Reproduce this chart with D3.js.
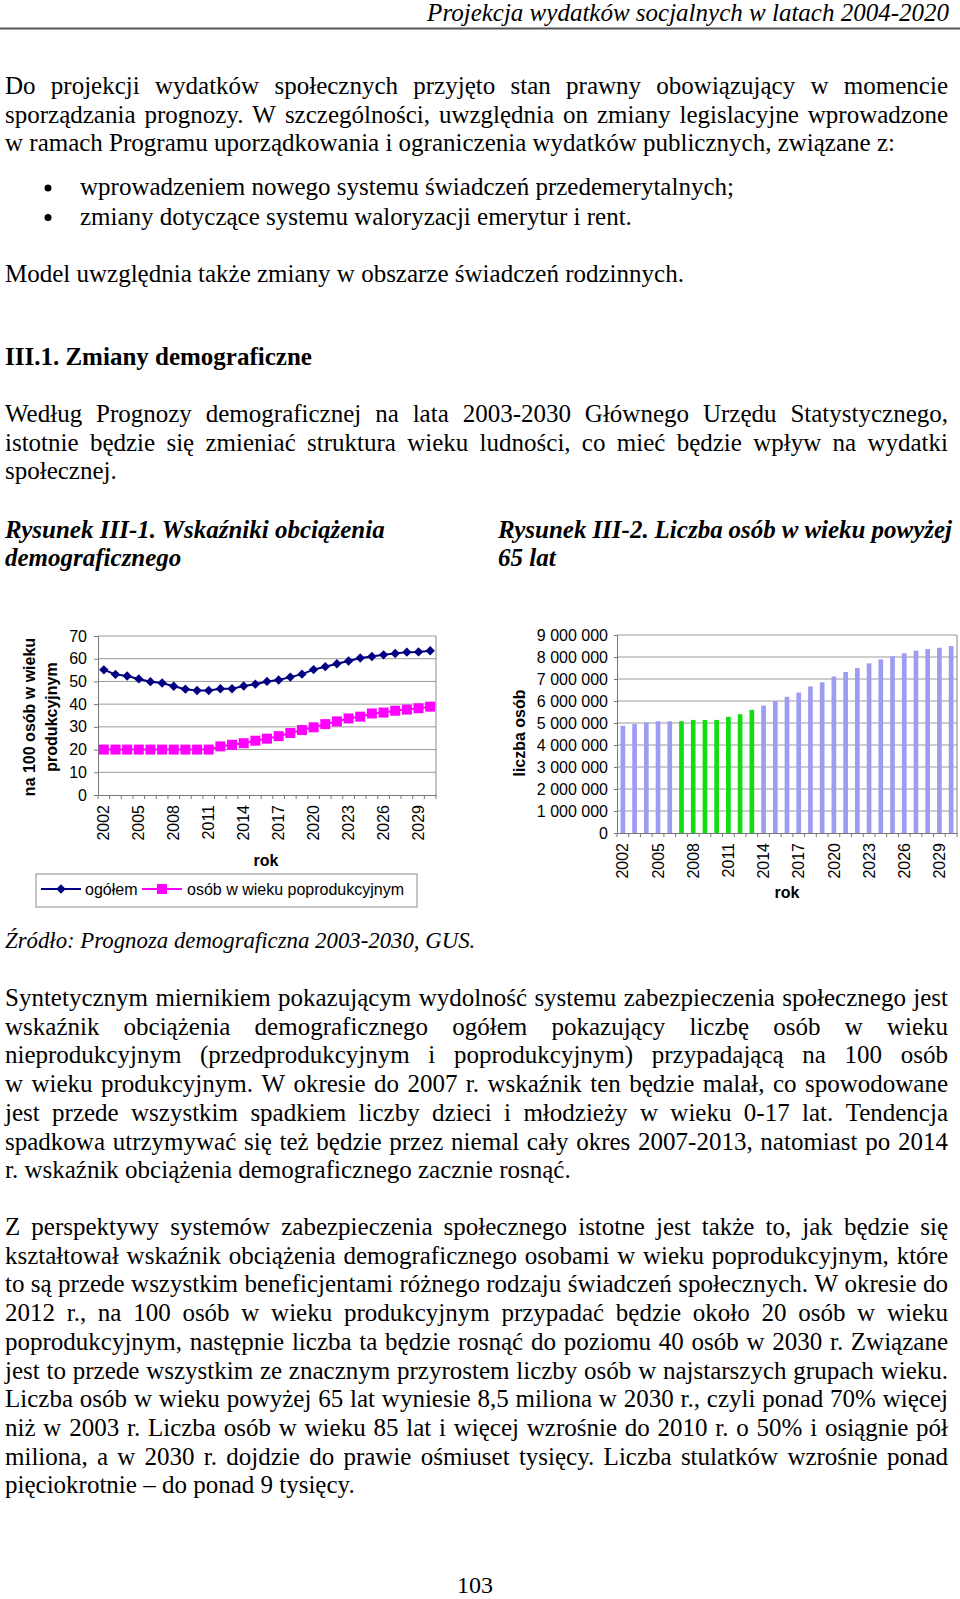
<!DOCTYPE html>
<html>
<head>
<meta charset="utf-8">
<script src="https://cdn.jsdelivr.net/npm/d3@7"></script>
<style>
  body { margin: 0; background: #fff; }
  svg { display: block; }
</style>
</head>
<body>
<svg id="page" width="960" height="1599"></svg>
<script>
// chart data
var years = [2002, 2003, 2004, 2005, 2006, 2007, 2008, 2009, 2010, 2011, 2012, 2013, 2014, 2015, 2016,
             2017, 2018, 2019, 2020, 2021, 2022, 2023, 2024, 2025, 2026, 2027, 2028, 2029, 2030];
var yearLabels = [2002, 2005, 2008, 2011, 2014, 2017, 2020, 2023, 2026, 2029];

var ogolem = [55.1, 53.1, 52.4, 51.1, 49.9, 49.3, 47.9, 46.6, 46.0, 46.0, 46.8, 46.8, 48.0, 48.8, 50.0,
              50.6, 51.9, 53.2, 55.2, 56.5, 57.8, 59.0, 60.3, 61.0, 61.7, 62.3, 62.9, 63.0, 63.5];
var poprodukcyjnym = [20.0, 20.0, 20.0, 20.0, 20.0, 20.0, 20.0, 20.0, 20.0, 20.0, 21.4, 22.1, 22.8, 23.9, 24.8,
                      25.9, 27.3, 28.6, 29.8, 31.2, 32.4, 33.7, 34.5, 35.9, 36.3, 37.1, 37.6, 38.2, 38.9];
var ticksLeft = [0, 10, 20, 30, 40, 50, 60, 70];

var osoby65 = [4870000, 4950000, 5020000, 5080000, 5080000, 5080000, 5140000, 5140000, 5140000, 5280000,
               5400000, 5600000, 5790000, 5990000, 6190000, 6380000, 6660000, 6850000, 7110000, 7320000,
               7500000, 7710000, 7890000, 8030000, 8170000, 8290000, 8360000, 8420000, 8500000];
var greenYears = [2007, 2008, 2009, 2010, 2011, 2012, 2013];
var ticksRight = [0, 1000000, 2000000, 3000000, 4000000, 5000000, 6000000, 7000000, 8000000, 9000000];

// page text: [line, justified]
var para1 = [
  ['Do projekcji wydatków społecznych przyjęto stan prawny obowiązujący w momencie', true],
  ['sporządzania prognozy. W szczególności, uwzględnia on zmiany legislacyjne wprowadzone', true],
  ['w ramach Programu uporządkowania i ograniczenia wydatków publicznych, związane z:', false]
];
var bullets = ['wprowadzeniem nowego systemu świadczeń przedemerytalnych;',
               'zmiany dotyczące systemu waloryzacji emerytur i rent.'];
var para2 = [
  ['Według Prognozy demograficznej na lata 2003-2030 Głównego Urzędu Statystycznego,', true],
  ['istotnie będzie się zmieniać struktura wieku ludności, co mieć będzie wpływ na wydatki', true],
  ['społecznej.', false]
];
var para3 = [
  ['Syntetycznym miernikiem pokazującym wydolność systemu zabezpieczenia społecznego jest', true],
  ['wskaźnik obciążenia demograficznego ogółem pokazujący liczbę osób w wieku', true],
  ['nieprodukcyjnym (przedprodukcyjnym i poprodukcyjnym) przypadającą na 100 osób', true],
  ['w wieku produkcyjnym. W okresie do 2007 r. wskaźnik ten będzie malał, co spowodowane', true],
  ['jest przede wszystkim spadkiem liczby dzieci i młodzieży w wieku 0-17 lat. Tendencja', true],
  ['spadkowa utrzymywać się też będzie przez niemal cały okres 2007-2013, natomiast po 2014', true],
  ['r. wskaźnik obciążenia demograficznego zacznie rosnąć.', false]
];
var para4 = [
  ['Z perspektywy systemów zabezpieczenia społecznego istotne jest także to, jak będzie się', true],
  ['kształtował wskaźnik obciążenia demograficznego osobami w wieku poprodukcyjnym, które', true],
  ['to są przede wszystkim beneficjentami różnego rodzaju świadczeń społecznych. W okresie do', true],
  ['2012 r., na 100 osób w wieku produkcyjnym przypadać będzie około 20 osób w wieku', true],
  ['poprodukcyjnym, następnie liczba ta będzie rosnąć do poziomu 40 osób w 2030 r. Związane', true],
  ['jest to przede wszystkim ze znacznym przyrostem liczby osób w najstarszych grupach wieku.', true],
  ['Liczba osób w wieku powyżej 65 lat wyniesie 8,5 miliona w 2030 r., czyli ponad 70% więcej', true],
  ['niż w 2003 r. Liczba osób w wieku 85 lat i więcej wzrośnie do 2010 r. o 50% i osiągnie pół', true],
  ['miliona, a w 2030 r. dojdzie do prawie ośmiuset tysięcy. Liczba stulatków wzrośnie ponad', true],
  ['pięciokrotnie – do ponad 9 tysięcy.', false]
];

var svg = d3.select('#page');
var serif = 'Liberation Serif, Times New Roman, serif';
var sans = 'Liberation Sans, Arial, sans-serif';
var marginL = 5, marginR = 948, lineStep = 28.7;

function textLine(str, x, y, opts, justifyTo) {
  opts = opts || {};
  var g = svg.append('g')
    .attr('font-family', serif)
    .attr('font-size', opts.size || 25)
    .attr('font-style', opts.italic ? 'italic' : null)
    .attr('font-weight', opts.bold ? 'bold' : null);
  if (!justifyTo) {
    g.append('text').attr('x', x).attr('y', y).text(str);
    return;
  }
  var words = str.split(' ');
  var t = g.selectAll('text').data(words).enter().append('text').attr('y', y).text(function(d) { return d; });
  var widths = t.nodes().map(function(n) { return n.getComputedTextLength(); });
  var gap = (justifyTo - x - d3.sum(widths)) / (words.length - 1);
  var cx = x;
  t.attr('x', function(d, i) { var v = cx; cx += widths[i] + gap; return v; });
}

function paragraph(lines, y0) {
  lines.forEach(function(l, i) {
    textLine(l[0], marginL, y0 + i * lineStep, {}, l[1] ? marginR : null);
  });
}

/* Header */
svg.append('text')
  .attr('x', 949).attr('y', 21)
  .attr('text-anchor', 'end')
  .attr('font-family', serif).attr('font-style', 'italic').attr('font-size', 25)
  .text('Projekcja wydatków socjalnych w latach 2004-2020');
svg.append('line')
  .attr('x1', 0).attr('x2', 960).attr('y1', 28.5).attr('y2', 28.5)
  .attr('stroke', '#555').attr('stroke-width', 2);

/* Body text */
paragraph(para1, 94);
bullets.forEach(function(b, i) {
  svg.append('circle').attr('cx', 48).attr('cy', 188 + i * 29.5).attr('r', 3.5).attr('fill', '#000');
  textLine(b, 80, 195 + i * 29.5);
});
textLine('Model uwzględnia także zmiany w obszarze świadczeń rodzinnych.', marginL, 282);
textLine('III.1. Zmiany demograficzne', marginL, 365, {bold: true});
paragraph(para2, 422);
textLine('Rysunek III-1. Wskaźniki obciążenia', marginL, 538, {bold: true, italic: true});
textLine('demograficznego', marginL, 566, {bold: true, italic: true});
textLine('Rysunek III-2. Liczba osób w wieku powyżej', 498, 538, {bold: true, italic: true}, 952);
textLine('65 lat', 498, 566, {bold: true, italic: true});
textLine('Źródło: Prognoza demograficzna 2003-2030, GUS.', marginL, 948, {italic: true, size: 22.8});
paragraph(para3, 1006);
paragraph(para4, 1235);
svg.append('text')
  .attr('x', 475).attr('y', 1593).attr('text-anchor', 'middle')
  .attr('font-family', serif).attr('font-size', 24)
  .text('103');

function styleAxis(g) {
  g.attr('font-family', sans).attr('font-size', 16);
  g.select('.domain').attr('stroke', '#777');
  g.selectAll('.tick line').attr('stroke', '#777');
  g.selectAll('.tick text').attr('fill', '#000');
}

/* Left chart: Wskaźniki obciążenia demograficznego */
var left = svg.append('g').attr('font-family', sans);
var xL = d3.scaleBand().domain(years).range([98, 436]);
var yL = d3.scaleLinear().domain([0, 70]).range([795, 636]);
var bwL = xL.bandwidth();

left.selectAll('line.grid').data(ticksLeft.slice(1)).enter().append('line')
  .attr('class', 'grid')
  .attr('x1', 98).attr('x2', 436)
  .attr('y1', function(d) { return yL(d); }).attr('y2', function(d) { return yL(d); })
  .attr('stroke', '#9a9a9a');
left.append('line')
  .attr('x1', 436).attr('x2', 436).attr('y1', yL(70)).attr('y2', yL(0))
  .attr('stroke', '#8a8a8a');

left.append('g')
  .attr('transform', 'translate(98,0)')
  .call(d3.axisLeft(yL).tickValues(ticksLeft).tickSize(4).tickPadding(7))
  .call(styleAxis);

var xAxisL = left.append('g')
  .attr('transform', 'translate(0,795)')
  .call(d3.axisBottom(xL).tickValues(yearLabels).tickSize(0).tickFormat(d3.format('d')))
  .call(styleAxis);
xAxisL.selectAll('.tick text')
  .attr('transform', 'rotate(-90)')
  .attr('x', -10).attr('y', 0).attr('dy', '0.35em')
  .attr('text-anchor', 'end');

left.selectAll('line.xtick').data(years.concat(['end'])).enter().append('line')
  .attr('class', 'xtick')
  .attr('x1', function(d) { return d === 'end' ? 436 : xL(d); })
  .attr('x2', function(d) { return d === 'end' ? 436 : xL(d); })
  .attr('y1', 795).attr('y2', 799)
  .attr('stroke', '#777');

left.append('text')
  .attr('transform', 'translate(29,717) rotate(-90)')
  .attr('dy', '0.35em').attr('text-anchor', 'middle')
  .attr('font-size', 16).attr('font-weight', 'bold')
  .text('na 100 osób w wieku');
left.append('text')
  .attr('transform', 'translate(51,717) rotate(-90)')
  .attr('dy', '0.35em').attr('text-anchor', 'middle')
  .attr('font-size', 16).attr('font-weight', 'bold')
  .text('produkcyjnym');
left.append('text')
  .attr('x', 266).attr('y', 866).attr('text-anchor', 'middle')
  .attr('font-size', 16).attr('font-weight', 'bold')
  .text('rok');

function cx(d, i) { return xL(years[i]) + bwL / 2; }
var lineGen = d3.line().x(cx).y(function(d) { return yL(d); });

left.append('path').datum(poprodukcyjnym)
  .attr('d', lineGen).attr('fill', 'none').attr('stroke', '#ff00ff').attr('stroke-width', 2);
left.append('path').datum(ogolem)
  .attr('d', lineGen).attr('fill', 'none').attr('stroke', '#000080').attr('stroke-width', 2);

left.selectAll('path.sq').data(poprodukcyjnym).enter().append('path')
  .attr('class', 'sq')
  .attr('d', d3.symbol().type(d3.symbolSquare).size(100))
  .attr('transform', function(d, i) { return 'translate(' + cx(d, i) + ',' + yL(d) + ')'; })
  .attr('fill', '#ff00ff');
left.selectAll('path.dm').data(ogolem).enter().append('path')
  .attr('class', 'dm')
  .attr('d', d3.symbol().type(d3.symbolSquare).size(44))
  .attr('transform', function(d, i) { return 'translate(' + cx(d, i) + ',' + yL(d) + ') rotate(45)'; })
  .attr('fill', '#000080');

/* Legend */
var legend = left.append('g');
legend.append('rect')
  .attr('x', 36).attr('y', 874).attr('width', 381).attr('height', 33)
  .attr('fill', 'none').attr('stroke', '#8a8a8a');
legend.append('line').attr('x1', 41).attr('x2', 81).attr('y1', 889).attr('y2', 889)
  .attr('stroke', '#000080').attr('stroke-width', 2);
legend.append('path').attr('d', d3.symbol().type(d3.symbolSquare).size(44))
  .attr('transform', 'translate(61,889) rotate(45)').attr('fill', '#000080');
legend.append('text').attr('x', 85).attr('y', 895).attr('font-size', 16).text('ogółem');
legend.append('line').attr('x1', 142).attr('x2', 182).attr('y1', 889).attr('y2', 889)
  .attr('stroke', '#ff00ff').attr('stroke-width', 2);
legend.append('path').attr('d', d3.symbol().type(d3.symbolSquare).size(100))
  .attr('transform', 'translate(162,889)').attr('fill', '#ff00ff');
legend.append('text').attr('x', 187).attr('y', 895).attr('font-size', 16).text('osób w wieku poprodukcyjnym');

/* Right chart: Liczba osób w wieku powyżej 65 lat */
var right = svg.append('g').attr('font-family', sans);
var xR = d3.scaleBand().domain(years).range([617, 957]).paddingInner(0.6).paddingOuter(0.3);
var xRb = d3.scaleBand().domain(years).range([617, 957]);
var yR = d3.scaleLinear().domain([0, 9000000]).range([833, 635]);
var plFormat = d3.formatLocale({decimal: ',', thousands: ' ', grouping: [3], currency: ['', '']}).format(',d');

right.selectAll('line.grid').data(ticksRight.slice(1)).enter().append('line')
  .attr('class', 'grid')
  .attr('x1', 617).attr('x2', 957)
  .attr('y1', function(d) { return yR(d); }).attr('y2', function(d) { return yR(d); })
  .attr('stroke', '#9a9a9a');
right.append('line')
  .attr('x1', 957).attr('x2', 957).attr('y1', yR(9000000)).attr('y2', yR(0))
  .attr('stroke', '#8a8a8a');

right.selectAll('rect.bar').data(osoby65).enter().append('rect')
  .attr('class', 'bar')
  .attr('x', function(d, i) { return xR(years[i]); })
  .attr('width', xR.bandwidth())
  .attr('y', function(d) { return yR(d); })
  .attr('height', function(d) { return yR(0) - yR(d); })
  .attr('fill', function(d, i) { return greenYears.indexOf(years[i]) >= 0 ? '#11dd11' : '#9c9cf2'; });

right.append('g')
  .attr('transform', 'translate(617,0)')
  .call(d3.axisLeft(yR).tickValues(ticksRight).tickSize(3).tickPadding(6).tickFormat(plFormat))
  .call(styleAxis);

var xAxisR = right.append('g')
  .attr('transform', 'translate(0,833)')
  .call(d3.axisBottom(xR).tickValues(yearLabels).tickSize(0).tickFormat(d3.format('d')))
  .call(styleAxis);
xAxisR.selectAll('.tick text')
  .attr('transform', 'rotate(-90)')
  .attr('x', -10).attr('y', 0).attr('dy', '0.35em')
  .attr('text-anchor', 'end');

right.selectAll('line.xtick').data(years.concat(['end'])).enter().append('line')
  .attr('class', 'xtick')
  .attr('x1', function(d) { return d === 'end' ? 957 : xRb(d); })
  .attr('x2', function(d) { return d === 'end' ? 957 : xRb(d); })
  .attr('y1', 833).attr('y2', 837)
  .attr('stroke', '#777');

right.append('text')
  .attr('transform', 'translate(519,733) rotate(-90)')
  .attr('dy', '0.35em').attr('text-anchor', 'middle')
  .attr('font-size', 16).attr('font-weight', 'bold')
  .text('liczba osób');
right.append('text')
  .attr('x', 787).attr('y', 898).attr('text-anchor', 'middle')
  .attr('font-size', 16).attr('font-weight', 'bold')
  .text('rok');
</script>
</body>
</html>
